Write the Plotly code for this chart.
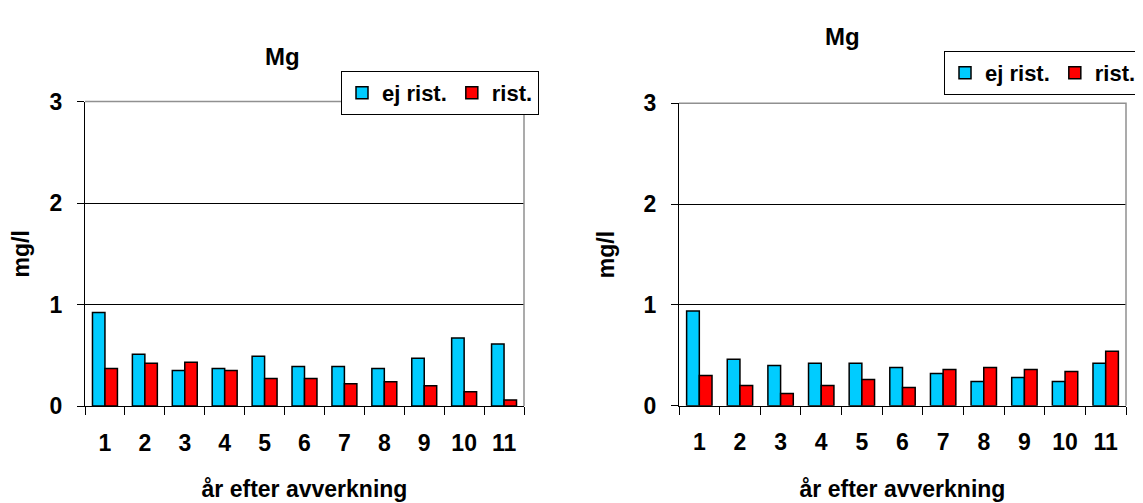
import plotly.graph_objects as go

# data
years = [str(i) for i in range(1, 12)]
left_ej_rist = [0.92, 0.51, 0.35, 0.37, 0.49, 0.39, 0.39, 0.37, 0.47, 0.67, 0.61]
left_rist = [0.37, 0.42, 0.43, 0.35, 0.27, 0.27, 0.22, 0.24, 0.20, 0.14, 0.06]
right_ej_rist = [0.94, 0.46, 0.40, 0.42, 0.42, 0.38, 0.32, 0.24, 0.28, 0.24, 0.42]
right_rist = [0.30, 0.20, 0.12, 0.20, 0.26, 0.18, 0.36, 0.38, 0.36, 0.34, 0.54]
y_ticks = [0, 1, 2, 3]

CYAN = "#00CCFF"
RED = "#FF0000"
FONT = "Liberation Sans, Arial, sans-serif"

# the page body has an 8px margin, so the figure is a bit smaller and
# every position below is measured from the figure's own corner
OFF = 8
W, H = 1143 - OFF, 503 - OFF


def px(x):
    return (x - OFF) / W


def py(y):
    return 1 - (y - OFF) / H


fig = go.Figure()

# left panel
fig.add_trace(go.Bar(x=years, y=left_ej_rist, name="ej rist.", marker_color=CYAN,
                     marker_line=dict(color="black", width=1.5), xaxis="x", yaxis="y",
                     legend="legend"))
fig.add_trace(go.Bar(x=years, y=left_rist, name="rist.", marker_color=RED,
                     marker_line=dict(color="black", width=1.5), xaxis="x", yaxis="y",
                     legend="legend"))
# right panel
fig.add_trace(go.Bar(x=years, y=right_ej_rist, name="ej rist.", marker_color=CYAN,
                     marker_line=dict(color="black", width=1.5), xaxis="x2", yaxis="y2",
                     legend="legend2"))
fig.add_trace(go.Bar(x=years, y=right_rist, name="rist.", marker_color=RED,
                     marker_line=dict(color="black", width=1.5), xaxis="x2", yaxis="y2",
                     legend="legend2"))

tick_font = dict(family=FONT, size=23, color="black", weight="bold")
title_font = dict(family=FONT, size=23, color="black", weight="bold")
main_font = dict(family=FONT, size=24, color="black", weight="bold")
legend_font = dict(family=FONT, size=22, color="black", weight="bold")

xaxis_common = dict(type="category", showline=True, linecolor="black", linewidth=1,
                    ticks="outside", tickson="boundaries", ticklen=8, tickcolor="black",
                    tickfont=tick_font, ticklabelstandoff=16, showgrid=False,
                    automargin=False,
                    title=dict(text="år efter avverkning", font=title_font, standoff=26))
yaxis_common = dict(range=[0, 3], tickvals=y_ticks, showline=True, linecolor="black",
                    linewidth=1, ticks="outside", ticklen=7, tickcolor="black",
                    tickfont=tick_font, ticklabelstandoff=10, showgrid=True,
                    gridcolor="black", gridwidth=1, zeroline=False, automargin=False,
                    title=dict(text="mg/l", font=title_font, standoff=22))

fig.update_layout(
    width=W, height=H,
    margin=dict(l=0, r=0, t=0, b=0),
    paper_bgcolor="white", plot_bgcolor="white",
    barmode="group", bargap=0.375, bargroupgap=0,
    showlegend=True,
    xaxis=dict(domain=[px(85), px(524)], anchor="y", **xaxis_common),
    yaxis=dict(domain=[py(406), py(101.5)], anchor="x", **yaxis_common),
    xaxis2=dict(domain=[px(679), px(1126)], anchor="y2", **xaxis_common),
    yaxis2=dict(domain=[py(405.7), py(103.3)], anchor="x2", **yaxis_common),
    legend=dict(orientation="h", x=px(341), y=py(71), xanchor="left", yanchor="top",
                bordercolor="black", borderwidth=1, bgcolor="white",
                font=legend_font, itemwidth=30, tracegroupgap=0),
    legend2=dict(orientation="h", x=px(944), y=py(51), xanchor="left", yanchor="top",
                 bordercolor="black", borderwidth=1, bgcolor="white",
                 font=legend_font, itemwidth=30, tracegroupgap=0),
    annotations=[
        dict(text="Mg", x=px(263), y=py(41), xref="paper", yref="paper",
             showarrow=False, font=main_font),
        dict(text="Mg", x=px(862), y=py(21), xref="paper", yref="paper",
             showarrow=False, font=main_font),
    ],
    shapes=[
        # grey frame on top and right of each plot area
        dict(type="path", path="M 0 1 L 1 1 L 1 0", xref="x domain", yref="y domain",
             line=dict(color="#909090", width=1.5), layer="above"),
        dict(type="path", path="M 0 1 L 1 1 L 1 0", xref="x2 domain", yref="y2 domain",
             line=dict(color="#909090", width=1.5), layer="above"),
    ],
)

fig.write_html("out.html")
